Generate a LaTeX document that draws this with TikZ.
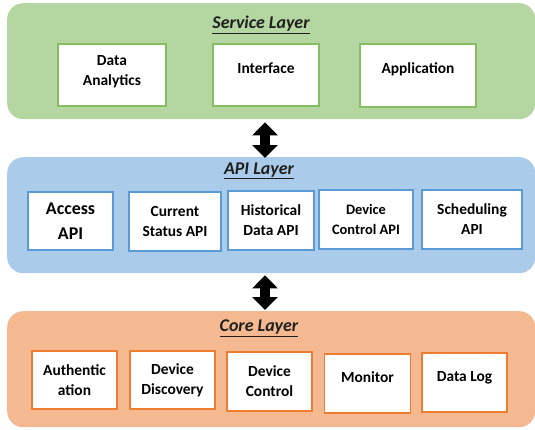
\documentclass[tikz,border=0pt]{standalone}
\usepackage{fontspec}
\setmainfont{Carlito}
\usetikzlibrary{arrows.meta}
\definecolor{svcfill}{HTML}{B4D6A0}
\definecolor{svcline}{HTML}{84BD62}
\definecolor{apifill}{HTML}{AACBE9}
\definecolor{apiline}{HTML}{5B9BD5}
\definecolor{corefill}{HTML}{F4B990}
\definecolor{coreline}{HTML}{ED7D31}
\begin{document}
\begin{tikzpicture}[x=1bp,y=-1bp,
  layer/.style={draw=none, rounded corners=16bp, anchor=north west, inner sep=0pt},
  box/.style={fill=white, line width=1.3bp, inner sep=0pt, align=center,
    font=\bfseries\fontsize{15.5}{20}\selectfont},
  txt/.style={inner sep=0pt, align=center, font=\bfseries\fontsize{15.5}{20}\selectfont},
  title/.style={inner sep=0pt, font=\bfseries\itshape\fontsize{18}{20}\selectfont, text=black!88},
  dbl/.style={line width=10bp, {Triangle[width=25bp,length=13bp]}-{Triangle[width=25bp,length=13bp]}}
]
\useasboundingbox (0,0) rectangle (535,429);

% layers
\node[layer, fill=svcfill, minimum width=528bp, minimum height=116bp] (svc) at (7,3) {};
\node[layer, fill=apifill, minimum width=528bp, minimum height=116bp] (api) at (7,157) {};
\node[layer, fill=corefill, minimum width=528bp, minimum height=116bp] (core) at (7,311) {};

% titles
\node[title] (svct) at (261,25) {\underline{Service Layer}};
\node[title] (apit) at (259,171) {\underline{API Layer}};
\node[title] (coret) at (259,328) {\underline{Core Layer}};

% service boxes
\node[box, draw=svcline, minimum width=108bp, minimum height=62bp] (da) at (112,75) {};
\node[txt] (dat) at (112,72) {Data\\Analytics};
\node[box, draw=svcline, minimum width=106bp, minimum height=62bp] (ifc) at (266,75) {};
\node[txt] (ifct) at (266,68) {Interface};
\node[box, draw=svcline, minimum width=116bp, minimum height=63bp] (app) at (418,75.5) {};
\node[txt] (appt) at (418,69) {Application};

% API boxes
\node[box, draw=apiline, minimum width=85bp, minimum height=58bp,
  font=\bfseries\fontsize{18}{25}\selectfont] (acc) at (70.5,221) {Access\\API};
\node[box, draw=apiline, minimum width=92bp, minimum height=59bp] (cur) at (175,221.5) {Current\\Status API};
\node[box, draw=apiline, minimum width=86bp, minimum height=59bp] (his) at (271,220.5) {Historical\\Data API};
\node[box, draw=apiline, minimum width=94bp, minimum height=59bp,
  font=\bfseries\fontsize{14.5}{20}\selectfont] (dca) at (366,219.5) {Device\\Control API};
\node[box, draw=apiline, minimum width=100bp, minimum height=59bp] (sch) at (472,219.5) {Scheduling\\API};

% core boxes
\node[box, draw=coreline, minimum width=85bp, minimum height=58bp] (aut) at (74.5,380) {Authentic\\ation};
\node[box, draw=coreline, minimum width=85bp, minimum height=58bp] (dd) at (172.5,380) {Device\\Discovery};
\node[box, draw=coreline, minimum width=85bp, minimum height=59bp] (dc) at (269.5,381.5) {Device\\Control};
\node[box, draw=coreline, minimum width=86bp, minimum height=59bp] (mon) at (367.5,383.5) {};
\node[txt] (mont) at (367.5,377) {Monitor};
\node[box, draw=coreline, minimum width=85bp, minimum height=59bp] (dl) at (464.5,382.5) {};
\node[txt] (dlt) at (464.5,378) {Data Log};

% arrows
\coordinate (ax) at (265,0);
\draw[dbl, shorten <=3bp, shorten >=-1bp] (svc.south -| ax) -- (api.north -| ax);
\draw[dbl, shorten <=2bp, shorten >=1bp] (api.south -| ax) -- (core.north -| ax);
\end{tikzpicture}
\end{document}
